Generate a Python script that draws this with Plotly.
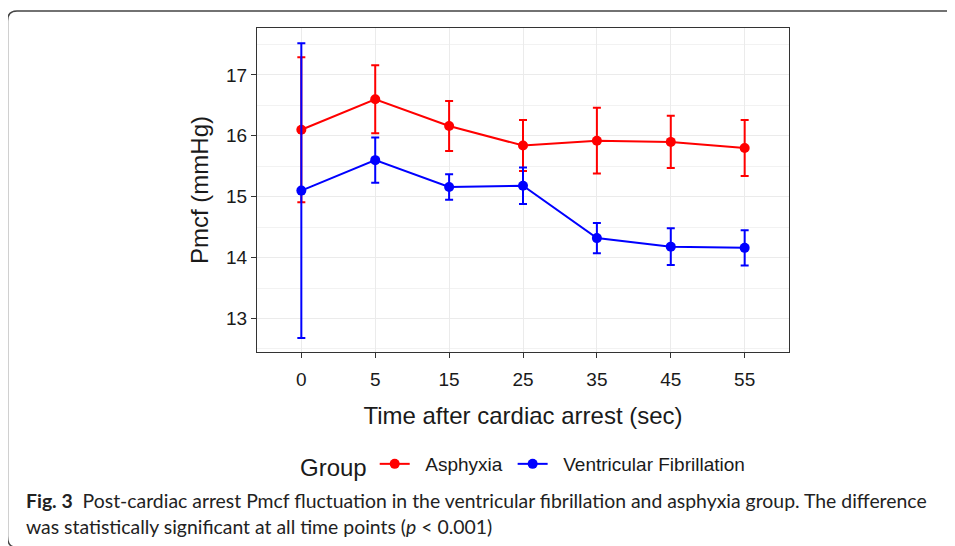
import plotly.graph_objects as go

# ---- data ----
time_labels = ["0", "5", "15", "25", "35", "45", "55"]
asphyxia_mean = [16.10, 16.60, 16.16, 15.84, 15.92, 15.90, 15.80]
asphyxia_err = [1.19, 0.56, 0.41, 0.42, 0.54, 0.43, 0.46]
vf_mean = [15.10, 15.60, 15.16, 15.18, 14.32, 14.18, 14.16]
vf_err = [2.42, 0.37, 0.21, 0.30, 0.25, 0.30, 0.29]
y_ticks = [13, 14, 15, 16, 17]
series_names = ["Asphyxia", "Ventricular Fibrillation"]

OFF = 8  # page body margin
W, H = 955 - OFF, 546 - OFF
L, R, T, B = 257 - OFF, 789 - OFF, 28 - OFF, 352 - OFF  # plot area in figure px

NB = "\u00a0"


def px(x):  # page px -> paper
    return (x - OFF - L) / (R - L)


def py(y):
    return (B - (y - OFF)) / (B - T)


fig = go.Figure()
fig.add_trace(go.Scatter(
    x=time_labels, y=asphyxia_mean, name=NB * 2 + series_names[0] + NB, mode="lines+markers",
    line=dict(color="#FF0000", width=2), marker=dict(color="#FF0000", size=10),
    error_y=dict(type="data", array=asphyxia_err, color="#FF0000", thickness=2, width=4),
))
fig.add_trace(go.Scatter(
    x=time_labels, y=vf_mean, name=NB * 2 + series_names[1], mode="lines+markers",
    line=dict(color="#0000FF", width=2), marker=dict(color="#0000FF", size=10),
    error_y=dict(type="data", array=vf_err, color="#0000FF", thickness=2, width=4),
))

# outer rounded frame (only top and left edges visible)
path = (f"M {px(960)},{py(11)} L {px(17)},{py(11)} Q {px(7.5)},{py(11)} {px(7.5)},{py(21)} "
        f"L {px(7.5)},{py(536)} Q {px(7.5)},{py(546)} {px(14)},{py(547)}")
shapes = [dict(type="path", xref="paper", yref="paper", path=path,
               line=dict(color="#444444", width=1.5))]

caption1 = ("<b>Fig. 3</b>  Post-cardiac arrest Pmcf fluctuation in the ventricular "
            "fibrillation and asphyxia group. The difference")
caption2 = "was statistically significant at all time points (<i>p</i> &lt; 0.001)"

annotations = [
    dict(text=caption1, xref="paper", yref="paper", x=px(24), y=py(500),
         xanchor="left", yanchor="middle", showarrow=False,
         font=dict(family="Lato", size=19.4, color="#222222")),
    dict(text=caption2, xref="paper", yref="paper", x=px(24), y=py(526),
         xanchor="left", yanchor="middle", showarrow=False,
         font=dict(family="Lato", size=19.4, color="#222222")),
]

fig.update_layout(
    width=W, height=H,
    margin=dict(l=L, r=W - R, t=T, b=H - B),
    paper_bgcolor="white", plot_bgcolor="white",
    font=dict(family="Liberation Sans", color="#1a1a1a"),
    showlegend=True,
    legend=dict(orientation="h", x=px(298), xanchor="left", y=py(466), yanchor="middle",
                title=dict(text="Group", font=dict(size=24, color="#1a1a1a")),
                font=dict(size=19, color="#1a1a1a"), itemwidth=30,
                bgcolor="rgba(0,0,0,0)"),
    xaxis=dict(
        type="category", range=[-0.6, 6.6],
        showgrid=True, gridcolor="#EBEBEB", gridwidth=1.3,
        showline=True, mirror=True, linecolor="#333333", linewidth=1,
        ticks="outside", ticklen=5, tickcolor="#333333", ticklabelstandoff=5,
        tickfont=dict(size=19, color="#1a1a1a"),
        title=dict(text="Time after cardiac arrest (sec)", font=dict(size=24), standoff=18),
        zeroline=False,
    ),
    yaxis=dict(
        range=[12.45, 17.77], tickvals=y_ticks,
        showgrid=True, gridcolor="#EBEBEB", gridwidth=1.3,
        minor=dict(dtick=0.5, tick0=12.5, showgrid=True, gridcolor="#F2F2F2", gridwidth=0.7),
        showline=True, mirror=True, linecolor="#333333", linewidth=1,
        ticks="outside", ticklen=5, tickcolor="#333333",
        tickfont=dict(size=19, color="#1a1a1a"),
        title=dict(text="Pmcf (mmHg)", font=dict(size=24), standoff=10),
        zeroline=False,
    ),
    shapes=shapes,
    annotations=annotations,
)

fig.write_html("out.html")
